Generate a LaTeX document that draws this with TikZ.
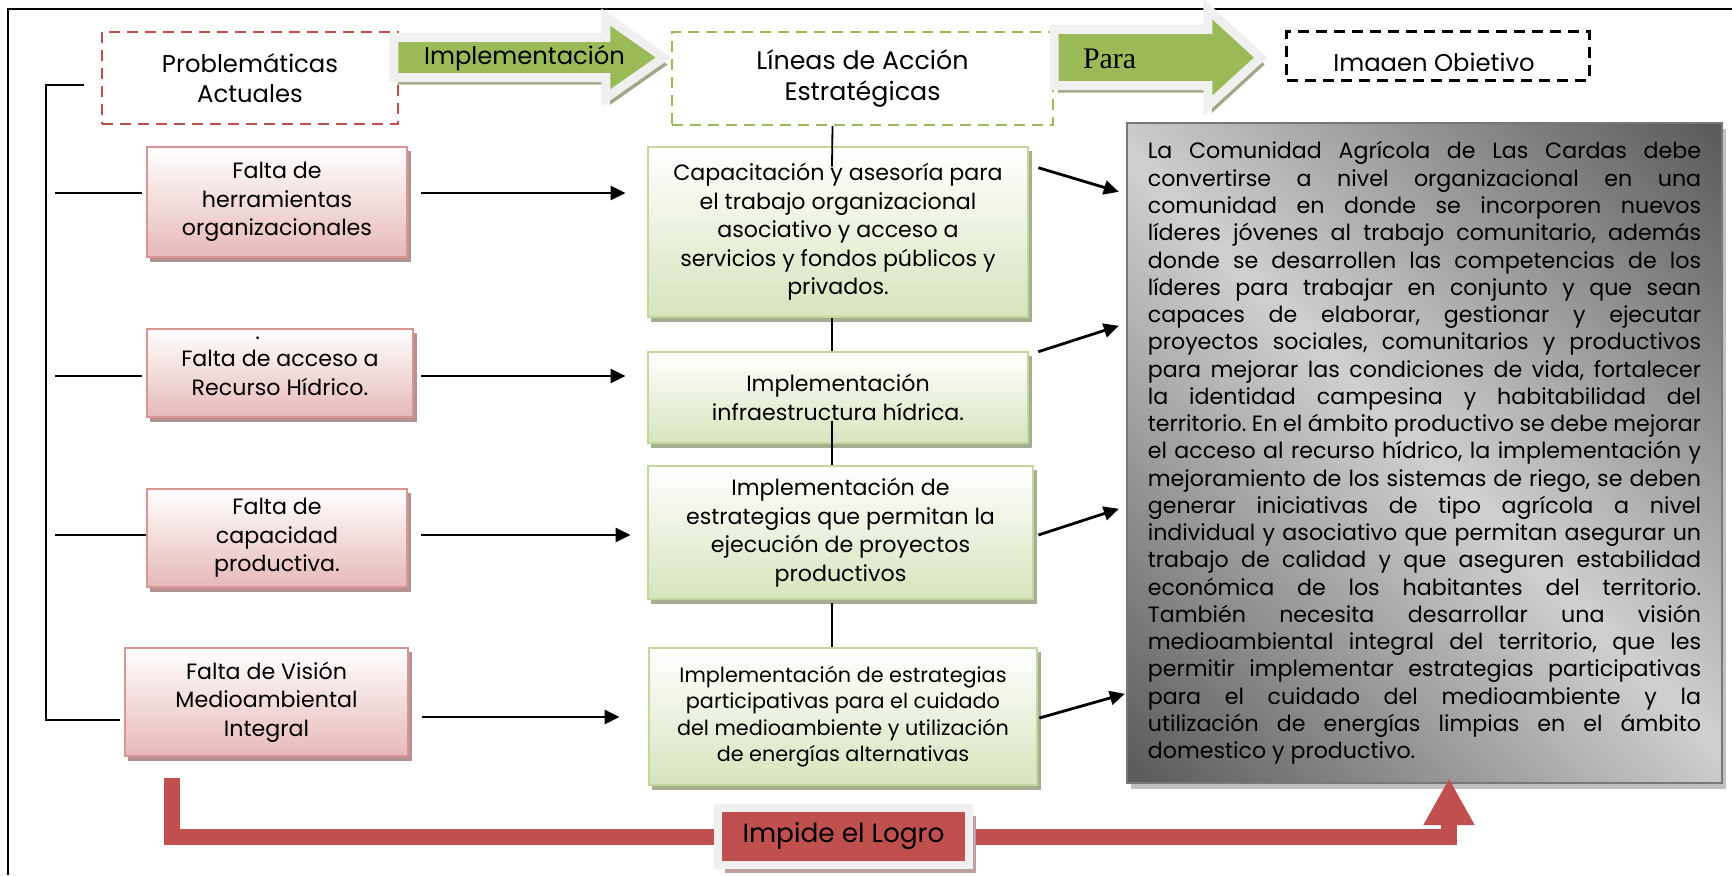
\documentclass[tikz,border=0pt]{standalone}
\usepackage{fontspec}
\setmainfont{Poppins}
\newfontfamily\parafont{Liberation Serif}
\usetikzlibrary{positioning,calc,shapes.arrows,shadows,arrows.meta}

\definecolor{pinkline}{RGB}{217,149,148}
\definecolor{pinkfill}{RGB}{230,185,184}
\definecolor{pinkshadow}{RGB}{180,146,146}
\definecolor{greenline}{RGB}{195,214,155}
\definecolor{greenfill}{RGB}{215,228,189}
\definecolor{greenshadow}{RGB}{166,174,146}
\definecolor{arrowgreen}{RGB}{155,187,89}
\definecolor{arrowshadow}{RGB}{160,168,140}
\definecolor{glow}{RGB}{240,240,240}
\definecolor{logrored}{RGB}{192,80,77}
\definecolor{logroshadow}{RGB}{190,160,160}
\definecolor{boxdark}{RGB}{92,92,92}
\definecolor{boxlight}{RGB}{208,208,208}
\definecolor{boxline}{RGB}{120,120,120}
\definecolor{boxshadow}{RGB}{192,192,192}

\begin{document}
\begin{tikzpicture}[x=0.01cm, y=-0.01cm,
    txt/.style={font=\fontsize{6.3}{8.1}\selectfont, align=center, inner sep=0pt},
    ttl/.style={font=\fontsize{6.9}{8.5}\selectfont, align=center, inner sep=0pt},
    falta/.style={txt, draw=pinkline, line width=0.02cm, top color=white, bottom color=pinkfill,
      drop shadow={shadow xshift=0.035cm, shadow yshift=-0.045cm, fill=pinkshadow, opacity=1}},
    accion/.style={txt, draw=greenline, line width=0.025cm, top color=white, bottom color=greenfill,
      drop shadow={shadow xshift=0.035cm, shadow yshift=-0.045cm, fill=greenshadow, opacity=1}},
    dashbox/.style={ttl, dashed, dash pattern=on 0.11cm off 0.07cm, line width=0.022cm},
    flecha/.style={single arrow, fill=arrowgreen, draw=glow, line width=0.09cm,
      inner xsep=0pt, inner ysep=0.08cm, single arrow head extend=0.205cm, align=left,
      drop shadow={shadow xshift=0.04cm, shadow yshift=-0.07cm, fill=arrowshadow, opacity=1}},
    arr/.style={-{Triangle[length=0.15cm, width=0.14cm]}, line width=0.028cm},
    link/.style={line width=0.018cm},
    band/.style={logrored, line width=0.16cm, -{Triangle[length=0.47cm, width=0.48cm]}},
    diagshade/.style={fill=boxdark, path picture={
      \begin{scope}[transform canvas={rotate around={-45:(path picture bounding box.center)}}]
        \shade[top color=boxdark, bottom color=boxdark, middle color=boxlight]
          ($(path picture bounding box.center)+(-480,-430)$) rectangle ($(path picture bounding box.center)+(480,430)$);
      \end{scope}}},
  ]
  \useasboundingbox (0,0) rectangle (1732,875);
  \draw[line width=0.025cm] (1732,9) -- (8,9) -- (8,875);

  % Headers
  \node[dashbox, draw=logrored, minimum width=2.96cm, minimum height=0.92cm] (prob) at (250,78)
    {Problemáticas\\Actuales};
  \node[dashbox, draw=arrowgreen, minimum width=3.81cm, minimum height=0.93cm,
    font=\fontsize{7.2}{8.7}\selectfont] (lineas) at (862.5,78.5)
    {Líneas de Acción\\Estratégicas};
  \node[dashbox, draw=black, line width=0.03cm, minimum width=3.02cm, minimum height=0.48cm] (imagen) at (1438,56) {};
  \begin{scope}
    \clip (imagen.north west) rectangle ($(imagen.east)+(0,14.5)$);
    \node[ttl, anchor=base] (imagentxt) at ($(imagen.center)+(-4,15)$) {Imagen Objetivo};
  \end{scope}

  \node[flecha, ttl, text width=2.32cm, text height=0.22cm, text depth=0.09cm,
    single arrow tip angle=70] (impl) at (514.5,57.5) {\hspace*{0.2cm}\mbox{Implementación}};
  \node[flecha, text width=1.67cm, text height=0.26cm, text depth=0.05cm,
    single arrow tip angle=85, font=\parafont\fontsize{8.5}{9}\selectfont] (para) at (1142.1,57.5)
    {\hspace*{0.245cm}Para};

  % Problematicas
  \node[falta, minimum width=2.60cm, minimum height=1.10cm] (f1) at (277,202)
    {Falta de\\herramientas\\organizacionales};
  \node[falta, minimum width=2.66cm, minimum height=0.88cm] (f2) at (280,373)
    {\makebox[0pt][l]{\hspace{0.74cm}\raisebox{0.27cm}[0pt][0pt]{.}}Falta de acceso a\\Recurso Hídrico.};
  \node[falta, minimum width=2.60cm, minimum height=0.98cm] (f3) at (277,538)
    {Falta de\\capacidad\\productiva.};
  \node[falta, minimum width=2.83cm, minimum height=1.08cm] (f4) at (266.5,702)
    {Falta de Visión\\Medioambiental\\Integral};

  % Lineas de accion
  \node[accion, minimum width=3.80cm, minimum height=1.70cm] (l1) at (838,232)
    {Capacitación y asesoría para\\el trabajo organizacional\\asociativo y acceso a\\servicios y fondos públicos y\\privados.};
  \node[accion, minimum width=3.80cm, minimum height=0.91cm] (l2) at (838,397.5)
    {Implementación\\infraestructura hídrica.};
  \node[accion, minimum width=3.85cm, minimum height=1.33cm] (l3) at (840.5,532.5)
    {Implementación de\\estrategias que permitan  la\\ejecución de proyectos\\productivos};
  \node[accion, minimum width=3.88cm, minimum height=1.37cm, font=\fontsize{5.9}{7.5}\selectfont] (l4) at (843,716.5)
    {Implementación de estrategias\\participativas para el cuidado\\del medioambiente y utilización\\de energías alternativas};

  % Imagen objetivo
  \node[draw=boxline, line width=0.02cm, diagshade, minimum width=5.95cm, minimum height=6.60cm,
    text width=5.53cm, inner xsep=0.21cm, inner ysep=0pt, align=justify,
    font=\fontsize{6.3}{7.75}\selectfont\frenchspacing,
    drop shadow={shadow xshift=0.04cm, shadow yshift=-0.06cm, fill=boxshadow, opacity=1}] (obj) at (1424.5,453)
    {La Comunidad Agrícola de Las Cardas debe\linebreak
     convertirse a nivel organizacional en una\linebreak
     comunidad en donde se incorporen nuevos\linebreak
     líderes jóvenes al trabajo comunitario, además\linebreak
     donde se desarrollen las competencias de los\linebreak
     líderes para trabajar en conjunto y que sean\linebreak
     capaces de elaborar, gestionar y ejecutar\linebreak
     proyectos sociales, comunitarios y productivos\linebreak
     para mejorar las condiciones de vida, fortalecer\linebreak
     la identidad campesina y habitabilidad del\linebreak
     territorio. En el ámbito productivo se debe mejorar\linebreak
     el acceso al recurso hídrico, la implementación y\linebreak
     mejoramiento de los sistemas de riego, se deben\linebreak
     generar iniciativas de tipo agrícola a nivel\linebreak
     individual y asociativo que permitan asegurar un\linebreak
     trabajo de calidad y que aseguren estabilidad\linebreak
     económica de los habitantes del territorio.\linebreak
     También necesita desarrollar una visión\linebreak
     medioambiental integral del territorio, que les\linebreak
     permitir implementar estrategias participativas\linebreak
     para el cuidado del medioambiente y la\linebreak
     utilización de energías limpias en el ámbito\linebreak
     domestico y productivo.};

  % Left bracket
  \draw[link] ($(prob.west)+(-17,7)$) -| ($(f4.west)+(-78,18)$) -- ($(f4.west)+(-4,18)$);
  \draw[link] ($(f1.west)+(-91,-9)$) -- ($(f1.west)+(-4,-9)$);
  \draw[link] ($(f2.west)+(-91,3)$) -- ($(f2.west)+(-4,3)$);
  \draw[link] ($(f3.west)+(-91,-3)$) -- ($(f3.west)+(0,-3)$);

  % Problema -> linea
  \draw[arr] ($(f1.east)+(13,-9)$) -- ($(l1.west |- f1.east)+(-21,-9)$);
  \draw[arr] ($(f2.east)+(7,3)$) -- ($(l2.west |- f2.east)+(-21,3)$);
  \draw[arr] ($(f3.east)+(13,-3)$) -- ($(l3.west |- f3.east)+(-16,-3)$);
  \draw[arr] ($(f4.east)+(13,15)$) -- ($(l4.west |- f4.east)+(-28,15)$);

  % Vertical spine
  \draw[link] ($(lineas.south)+(-30,0)$) -- ($(l1.north)+(-6,21)$);
  \draw[link] ($(l1.south)+(-6,0)$) -- ($(l2.north)+(-6,0)$);
  \draw[link] ($(l2.south)+(-6,-23)$) -- ($(l3.north)+(-8.5,0)$);
  \draw[link] ($(l3.south)+(-8.5,3)$) -- ($(l4.north)+(-11,0)$);

  % Linea -> imagen objetivo
  \draw[arr] ($(l1.north east)+(9,22)$) -- ($(obj.north west)+(-7,70)$);
  \draw[arr] ($(l2.north east)+(9,1)$) -- ($(obj.north west)+(-7,204)$);
  \draw[arr] ($(l3.east)+(4,2.5)$) -- ($(obj.north west)+(-7,387)$);
  \draw[arr] ($(l4.east)+(1,1.5)$) -- ($(obj.north west)+(-1,572)$);

  % Impide el logro
  \draw[band] ($(f4.south)+(-94.5,21)$) |- ($(obj.south)+(24.5,53)$) -- ($(obj.south)+(24.5,-6)$);
  \node[ttl, font=\fontsize{7.5}{9}\selectfont, fill=logrored, draw=glow, line width=0.08cm,
    minimum width=2.51cm, minimum height=0.57cm,
    drop shadow={shadow xshift=0.07cm, shadow yshift=-0.08cm, fill=logroshadow, opacity=1}] (impide) at (843.5,836.5)
    {Impide el Logro};
\end{tikzpicture}
\end{document}
